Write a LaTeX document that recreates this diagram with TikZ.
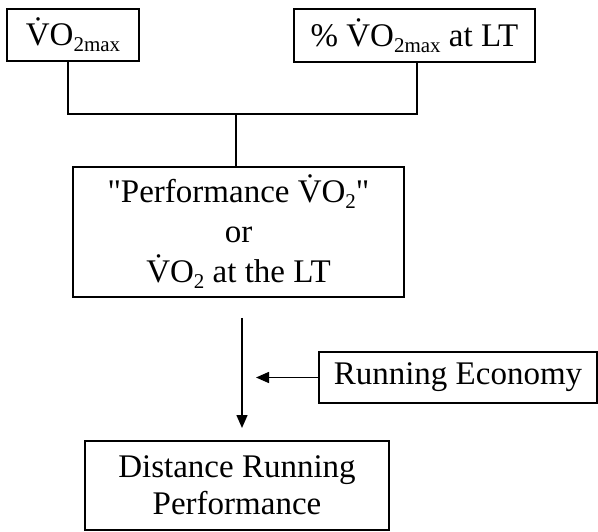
\documentclass[tikz,border=0pt]{standalone}
\usepackage{fontspec}
\setmainfont{Liberation Serif}
\usetikzlibrary{arrows.meta}
\newcommand\vdotV{\.{V}}
\newcommand\sbsc[1]{\raisebox{-6pt}{\fontsize{21}{21}\selectfont #1}}
\begin{document}
\begin{tikzpicture}[x=1pt,y=-1pt,
  box/.style={draw, line width=1.5pt, inner sep=0pt, align=center,
    font=\fontsize{33}{40}\selectfont},
  conn/.style={line width=1.5pt},
  arr/.style={line width=1.5pt, -{Triangle[length=13pt,width=11pt]}}]
\useasboundingbox (0,0) rectangle (598,532);
\node[box, minimum width=132pt, minimum height=52pt] (vo) at (73,35) {\vdotV O\sbsc{2max}};
\node[box, minimum width=241pt, minimum height=53pt] (pct) at (414.5,35.5) {\% \vdotV O\sbsc{2max} at LT};
\node[box, minimum width=331pt, minimum height=130pt] (perf) at (238.5,232) {\textquotedbl Performance \vdotV O\sbsc{2}\textquotedbl\\or\\\vdotV O\sbsc{2} at the LT};
\node[box, minimum width=278pt, minimum height=51pt] (re) at (458,377.5) {Running Economy};
\node[box, minimum width=304pt, minimum height=89pt, font=\fontsize{33}{37}\selectfont] (drp) at (237,485.5) {Distance Running\\Performance};
\coordinate (j) at (236,114);
\coordinate (a1) at (242,318);
\coordinate (a2) at (242,428);
\coordinate (a3) at (256,377.5);
\draw[conn] (vo.south -| 68,0) |- (j) -| (pct.south -| 417,0);
\draw[conn] (j) -- (perf.north -| j);
\draw[arr] (a1) -- (a2);
\draw[arr] (re.west) -- (a3);
\end{tikzpicture}
\end{document}
